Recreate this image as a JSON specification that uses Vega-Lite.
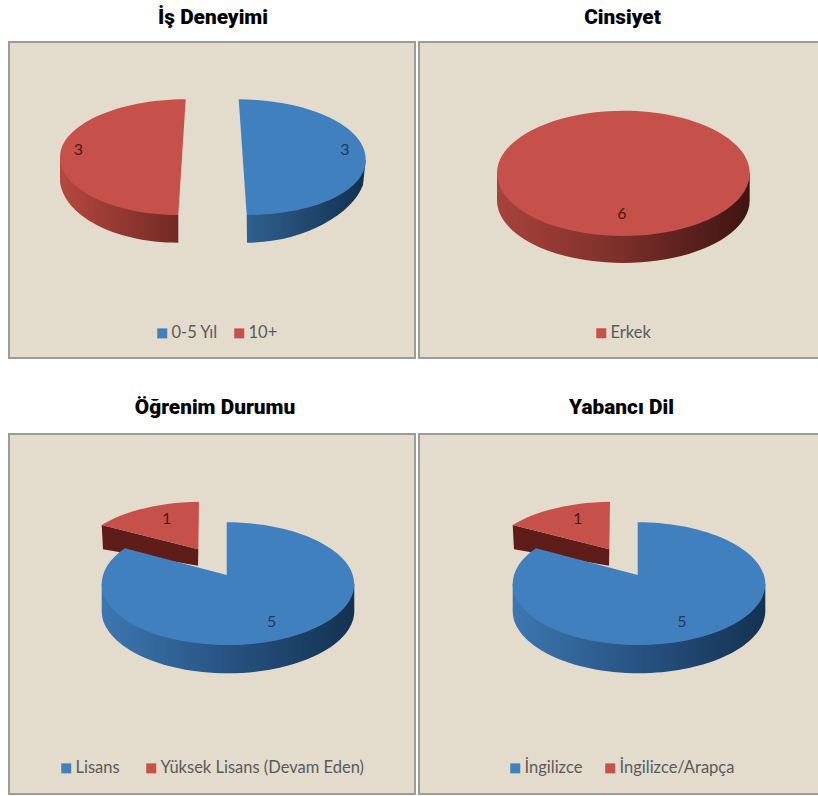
{"$schema":"https://vega.github.io/schema/vega-lite/v6.json","padding":{"left":8,"top":6,"right":0,"bottom":0},"background":"white","config":{"legend":{"orient":"none","direction":"horizontal","title":null,"symbolType":"square","symbolSize":100,"symbolStrokeWidth":0,"labelFont":"Lato","labelFontSize":16.5,"labelColor":"#5a5a5a","labelOffset":1,"labelLimit":400},"title":{"font":"Roboto","fontWeight":900,"fontSize":20.8,"color":"#000000","anchor":"middle","frame":"group"}},"vconcat":[{"spacing":2,"resolve":{"scale":{"color":"independent","shape":"independent"}},"hconcat":[{"title":{"text":"İş Deneyimi","offset":13,"dx":1},"view":{"fill":"#E3DCCD","stroke":"#9C9C96","strokeWidth":2},"resolve":{"scale":{"shape":"independent"}},"width":406,"height":316,"data":{"values":[{"slice":"0-5 Yıl","value":3},{"slice":"10+","value":3}]},"layer":[{"transform":[{"filter":"datum.slice === '10+'"}],"mark":{"type":"point","filled":true,"size":4,"opacity":1,"fill":{"gradient":"linear","x1":0,"y1":0,"x2":1,"y2":0,"stops":[{"offset":0,"color":"#B5483F"},{"offset":1,"color":"#722A24"}]}},"encoding":{"shape":{"field":"slice","type":"nominal","scale":{"domain":["10+"],"range":["M-152,-43 L-152,-18 C-148,15 -99,42.7 -33.7,42.7 L-33.7,15 Z"]},"legend":null}}},{"transform":[{"filter":"datum.slice === '0-5 Yıl'"}],"mark":{"type":"point","filled":true,"size":4,"opacity":1,"fill":{"gradient":"linear","x1":0,"y1":0,"x2":1,"y2":0,"stops":[{"offset":0,"color":"#2F618F"},{"offset":1,"color":"#12304F"}]}},"encoding":{"shape":{"field":"slice","type":"nominal","scale":{"domain":["0-5 Yıl"],"range":["M153.7,-40 L151,-15 C140,15 90,42.7 35,42.7 L34.7,15 Z"]},"legend":null}}},{"mark":{"type":"point","filled":true,"size":4,"opacity":1},"encoding":{"shape":{"field":"slice","type":"nominal","scale":{"domain":["0-5 Yıl","10+"],"range":["M26.7,-100.7 C95,-100 153.7,-75 153.7,-40 C153.7,-8 100,15 34.7,15 Z","M-26.3,-100.7 C-94,-100.7 -152,-75 -152,-43 C-152,-11 -99,15 -33.7,15 Z"]},"legend":null},"color":{"field":"slice","type":"nominal","scale":{"domain":["0-5 Yıl","10+"],"range":["#4180BF","#C5514A"]},"legend":{"legendX":145,"legendY":283,"columnPadding":13}}}},{"transform":[{"filter":"datum.slice === '10+'"}],"mark":{"type":"text","font":"Lato","fontSize":16,"color":"#4A1A15","dx":-133.7,"dy":-50},"encoding":{"text":{"field":"value","type":"quantitative"}}},{"transform":[{"filter":"datum.slice === '0-5 Yıl'"}],"mark":{"type":"text","font":"Lato","fontSize":16,"color":"#1F3B5C","dx":133,"dy":-50},"encoding":{"text":{"field":"value","type":"quantitative"}}}]},{"title":{"text":"Cinsiyet","offset":13,"dx":3},"view":{"fill":"#E3DCCD","stroke":"#9C9C96","strokeWidth":2},"resolve":{"scale":{"shape":"independent"}},"width":401,"height":316,"data":{"values":[{"slice":"Erkek","value":6}]},"layer":[{"mark":{"type":"point","filled":true,"size":4,"opacity":1,"fill":{"gradient":"linear","x1":0,"y1":0,"x2":1,"y2":0,"stops":[{"offset":0,"color":"#A8433B"},{"offset":0.5,"color":"#7A2F29"},{"offset":1,"color":"#3F1412"}]}},"encoding":{"shape":{"field":"slice","type":"nominal","scale":{"domain":["Erkek"],"range":["M-122.5,-26.7 L-122.5,0.3 C-122.5,34.9 -65.9,62.95 3.85,62.95 C73.6,62.95 130.2,34.9 130.2,0.3 L130.2,-26.7 Z"]},"legend":null}}},{"mark":{"type":"point","filled":true,"size":4,"opacity":1},"encoding":{"shape":{"field":"slice","type":"nominal","scale":{"domain":["Erkek"],"range":["M-122.5,-26.7 C-122.5,-61.3 -65.9,-89.35 3.85,-89.35 C73.6,-89.35 130.2,-61.3 130.2,-26.7 C130.2,7.9 73.6,35.95 3.85,35.95 C-65.9,35.95 -122.5,7.9 -122.5,-26.7 Z"]},"legend":null},"color":{"field":"slice","type":"nominal","scale":{"domain":["Erkek"],"range":["#C5514A"]},"legend":{"legendX":174,"legendY":283}}}},{"mark":{"type":"text","font":"Lato","fontSize":16,"color":"#4A1A15","dx":2.5,"dy":14},"encoding":{"text":{"field":"value","type":"quantitative"}}}]}]},{"spacing":2,"resolve":{"scale":{"color":"independent","shape":"independent"}},"hconcat":[{"title":{"text":"Öğrenim Durumu","offset":15,"dx":3},"view":{"fill":"#E3DCCD","stroke":"#9C9C96","strokeWidth":2},"resolve":{"scale":{"shape":"independent"}},"width":406,"height":360,"data":{"values":[{"slice":"Lisans","value":5},{"slice":"Yüksek Lisans (Devam Eden)","value":1}]},"layer":[{"transform":[{"filter":"datum.value === 1"}],"mark":{"type":"point","filled":true,"size":4,"opacity":1,"fill":"#5E1D18"},"encoding":{"shape":{"field":"slice","type":"nominal","scale":{"domain":["Yüksek Lisans (Devam Eden)"],"range":["M-110.3,-89 L-13.7,-64.7 L-14,-48.3 L-109,-64.7 Z"]},"legend":null}}},{"transform":[{"filter":"datum.value === 5"}],"mark":{"type":"point","filled":true,"size":4,"opacity":1,"fill":{"gradient":"linear","x1":0,"y1":0,"x2":1,"y2":0,"stops":[{"offset":0,"color":"#3D77B0"},{"offset":0.5,"color":"#275382"},{"offset":1,"color":"#143250"}]}},"encoding":{"shape":{"field":"slice","type":"nominal","scale":{"domain":["Lisans"],"range":["M-110.3,-30 L-110.3,-3 C-110.3,31 -54,59.3 16,59.3 C85,59.3 142.3,31 142.3,-3 L142.3,-30 Z"]},"legend":null}}},{"mark":{"type":"point","filled":true,"size":4,"opacity":1},"encoding":{"shape":{"field":"slice","type":"nominal","scale":{"domain":["Yüksek Lisans (Devam Eden)","Lisans"],"range":["M-13.7,-64.7 L-13,-112.3 C-50,-112 -88,-103 -110.3,-89 Z","M14.7,-39 L14.7,-91.7 C84,-91.7 142.3,-64 142.3,-30 C142.3,4 85,31 16,31 C-54,31 -110.3,4 -110.3,-30 C-110.3,-42 -103,-55 -87,-65.7 Z"]},"legend":null},"color":{"field":"slice","type":"nominal","scale":{"domain":["Lisans","Yüksek Lisans (Devam Eden)"],"range":["#4180BF","#C5514A"]},"legend":{"legendX":49,"legendY":326,"columnPadding":23}}}},{"transform":[{"filter":"datum.value === 1"}],"mark":{"type":"text","font":"Lato","fontSize":16,"color":"#4A1A15","dx":-45.3,"dy":-94.7},"encoding":{"text":{"field":"value","type":"quantitative"}}},{"transform":[{"filter":"datum.value === 5"}],"mark":{"type":"text","font":"Lato","fontSize":16,"color":"#1F3B5C","dx":59.7,"dy":8.3},"encoding":{"text":{"field":"value","type":"quantitative"}}}]},{"title":{"text":"Yabancı Dil","offset":15,"dx":2},"view":{"fill":"#E3DCCD","stroke":"#9C9C96","strokeWidth":2},"resolve":{"scale":{"shape":"independent"}},"width":401,"height":360,"data":{"values":[{"slice":"İngilizce","value":5},{"slice":"İngilizce/Arapça","value":1}]},"layer":[{"transform":[{"filter":"datum.value === 1"}],"mark":{"type":"point","filled":true,"size":4,"opacity":1,"xOffset":3.5,"fill":"#5E1D18"},"encoding":{"shape":{"field":"slice","type":"nominal","scale":{"domain":["İngilizce/Arapça"],"range":["M-110.3,-89 L-13.7,-64.7 L-14,-48.3 L-109,-64.7 Z"]},"legend":null}}},{"transform":[{"filter":"datum.value === 5"}],"mark":{"type":"point","filled":true,"size":4,"opacity":1,"xOffset":3.5,"fill":{"gradient":"linear","x1":0,"y1":0,"x2":1,"y2":0,"stops":[{"offset":0,"color":"#3D77B0"},{"offset":0.5,"color":"#275382"},{"offset":1,"color":"#143250"}]}},"encoding":{"shape":{"field":"slice","type":"nominal","scale":{"domain":["İngilizce"],"range":["M-110.3,-30 L-110.3,-3 C-110.3,31 -54,59.3 16,59.3 C85,59.3 142.3,31 142.3,-3 L142.3,-30 Z"]},"legend":null}}},{"mark":{"type":"point","filled":true,"size":4,"opacity":1,"xOffset":3.5},"encoding":{"shape":{"field":"slice","type":"nominal","scale":{"domain":["İngilizce/Arapça","İngilizce"],"range":["M-13.7,-64.7 L-13,-112.3 C-50,-112 -88,-103 -110.3,-89 Z","M14.7,-39 L14.7,-91.7 C84,-91.7 142.3,-64 142.3,-30 C142.3,4 85,31 16,31 C-54,31 -110.3,4 -110.3,-30 C-110.3,-42 -103,-55 -87,-65.7 Z"]},"legend":null},"color":{"field":"slice","type":"nominal","scale":{"domain":["İngilizce","İngilizce/Arapça"],"range":["#4180BF","#C5514A"]},"legend":{"legendX":88,"legendY":326,"columnPadding":19}}}},{"transform":[{"filter":"datum.value === 1"}],"mark":{"type":"text","font":"Lato","fontSize":16,"color":"#4A1A15","dx":-41.8,"dy":-94.7},"encoding":{"text":{"field":"value","type":"quantitative"}}},{"transform":[{"filter":"datum.value === 5"}],"mark":{"type":"text","font":"Lato","fontSize":16,"color":"#1F3B5C","dx":62.5,"dy":8.3},"encoding":{"text":{"field":"value","type":"quantitative"}}}]}]}],"spacing":37}
